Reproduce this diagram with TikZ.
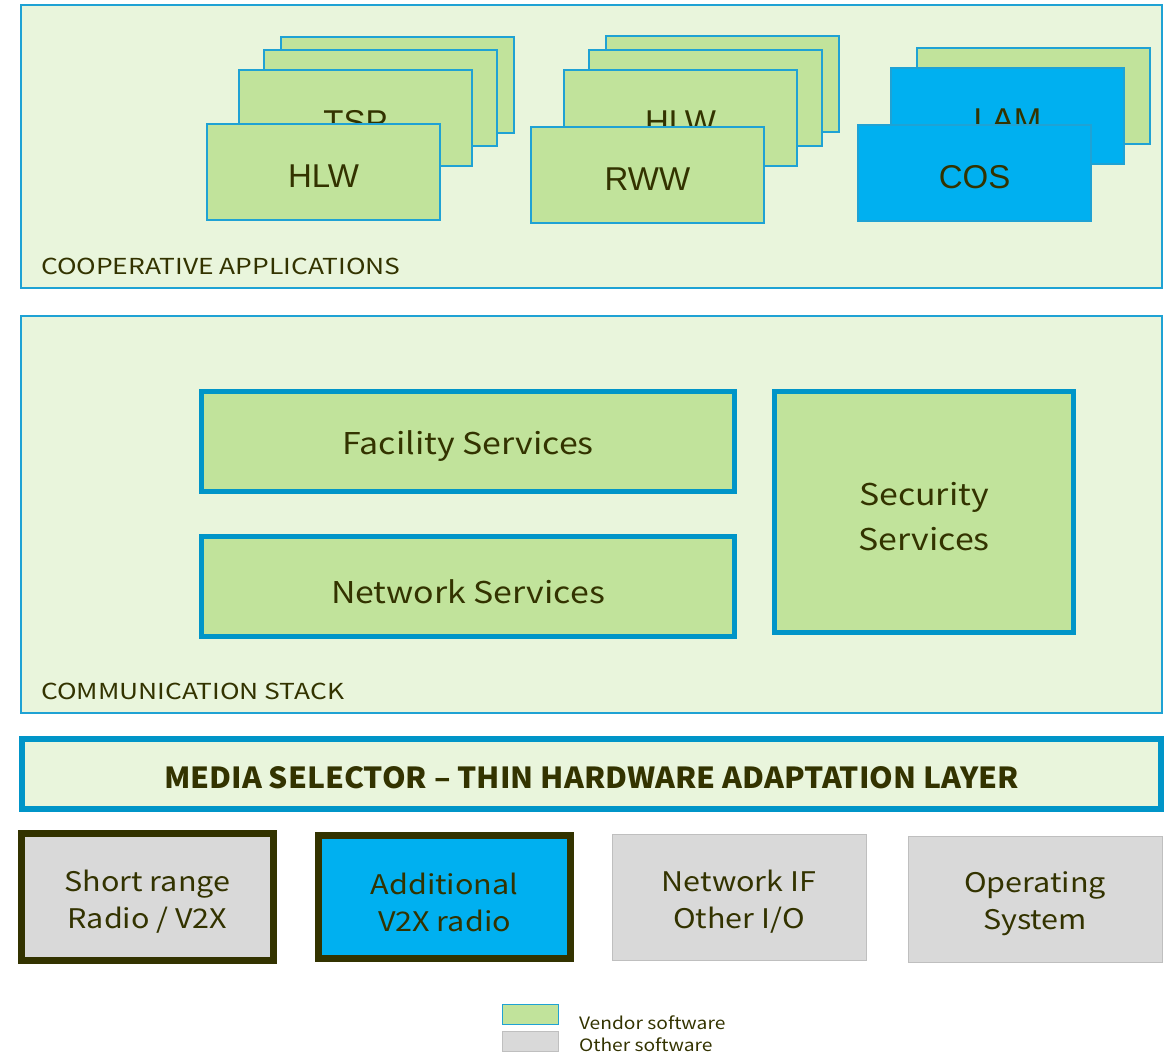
\documentclass[tikz,border=0pt]{standalone}
\usepackage{fontspec}
\setmainfont[FakeStretch=1.13]{Noto Sans CJK JP}
\newfontfamily\mediafont[FakeStretch=1.04]{Noto Sans CJK JP}
\newfontfamily\capsfont[FakeStretch=1.2]{Noto Sans CJK JP}
\newfontfamily\appfont{Liberation Sans}
\definecolor{panelfill}{HTML}{E9F5DC}
\definecolor{vendorgreen}{HTML}{C1E39B}
\definecolor{edgeblue}{HTML}{1FA2D4}
\definecolor{thickblue}{HTML}{0095C8}
\definecolor{brightblue}{HTML}{00B0F0}
\definecolor{othergray}{HTML}{D9D9D9}
\definecolor{graybd}{HTML}{BFBFBF}
\definecolor{olive}{HTML}{333300}
\begin{document}
\begin{tikzpicture}[x=1pt,y=-1pt,
  every node/.style={inner sep=0pt,outer sep=0pt,text=olive},
  panel/.style={draw=edgeblue,line width=1.2pt,fill=panelfill,rectangle,anchor=north west},
  appbox/.style={draw=edgeblue,line width=1.2pt,fill=vendorgreen,rectangle,anchor=north west,
    minimum width=233,minimum height=96},
  appblue/.style={appbox,fill=brightblue},
  apptext/.style={yshift=-4pt,font=\appfont\fontsize{33}{36}\selectfont},
  svcbox/.style={draw=thickblue,line width=5pt,fill=vendorgreen,rectangle,anchor=north west},
  svctext/.style={yshift=-5pt,font=\fontsize{30}{45}\selectfont,align=center},
  hwbox/.style={draw=olive,line width=7pt,rectangle,anchor=north west},
  plainbox/.style={draw=graybd,line width=1pt,fill=othergray,rectangle,anchor=north west},
  hwtext/.style={yshift=-5pt,font=\fontsize{27}{37}\selectfont,align=center},
  paneltitle/.style={anchor=base west,font=\capsfont\fontsize{22}{24}\selectfont},
  legendbox/.style={rectangle,anchor=north west,minimum width=56,minimum height=20},
  legendtext/.style={anchor=base west,font=\fontsize{17}{20}\selectfont}]
\useasboundingbox (0,0) rectangle (1167,1052);

% cooperative applications layer
\node[panel,minimum width=1141,minimum height=283] (coop) at (21,5) {};
\node[paneltitle] (cooplbl) at (41,274) {COOPERATIVE APPLICATIONS};

% first application stack
\node[appbox] (s1a) at (281,37) {};
\node[appbox] (s1b) at (264,50) {};
\node[appbox] (s1c) at (239,70) {};
\node[apptext] (s1ct) at (s1c.center) {TSP};
\node[appbox] (s1d) at (207,124) {};
\node[apptext] (s1dt) at (s1d.center) {HLW};

% second application stack
\node[appbox] (s2a) at (606,36) {};
\node[appbox] (s2b) at (589,50) {};
\node[appbox] (s2c) at (564,70) {};
\node[apptext] (s2ct) at (s2c.center) {HLW};
\node[appbox] (s2d) at (531,127) {};
\node[apptext] (s2dt) at (s2d.center) {RWW};

% third application stack
\node[appbox] (s3a) at (917,48) {};
\node[appblue] (s3b) at (891,68) {};
\node[apptext] (s3bt) at (s3b.center) {LAM};
\node[appblue] (s3c) at (858,125) {};
\node[apptext] (s3ct) at (s3c.center) {COS};

% communication stack layer
\node[panel,minimum width=1141,minimum height=397] (comm) at (21,316) {};
\node[paneltitle] (commlbl) at (41,699) {COMMUNICATION STACK};
\node[svcbox,minimum width=533,minimum height=100] (fac) at (201.5,391.5) {};
\node[svctext] (fact) at (fac.center) {Facility Services};
\node[svcbox,minimum width=533,minimum height=100] (net) at (201.5,536.5) {};
\node[svctext] (nett) at (net.center) {Network Services};
\node[svcbox,minimum width=299,minimum height=241] (sec) at (774.5,391.5) {};
\node[svctext] (sect) at (sec.center) {Security\\Services};

% media selector
\node[draw=thickblue,line width=6pt,fill=panelfill,rectangle,anchor=north west,
  minimum width=1139,minimum height=70] (media) at (22,739) {};
\node[yshift=-4pt,font=\mediafont\bfseries\fontsize{29}{32}\selectfont] (mediat) at (media.center)
  {MEDIA SELECTOR – THIN HARDWARE ADAPTATION LAYER};

% hardware and platform
\node[hwbox,fill=othergray,minimum width=252,minimum height=127] (srr) at (21.5,833.5) {};
\node[hwtext] (srrt) at (srr.center) {Short range\\Radio / V2X};
\node[hwbox,fill=brightblue,minimum width=252,minimum height=123] (addv) at (318.5,835.5) {};
\node[hwtext] (addvt) at (addv.center) {Additional\\V2X radio};
\node[plainbox,minimum width=254,minimum height=126] (netif) at (612,834) {};
\node[hwtext] (netift) at (netif.center) {Network IF\\Other I/O};
\node[plainbox,minimum width=254,minimum height=126] (os) at (908,836) {};
\node[hwtext] (ost) at (os.center) {Operating\\System};

% legend
\node[legendbox,draw=edgeblue,line width=1pt,fill=vendorgreen] (lgv) at (502,1004) {};
\node[legendbox,draw=graybd,line width=0.6pt,fill=othergray] (lgo) at (502,1031) {};
\node[legendtext] (lgvt) at (579,1029) {Vendor software};
\node[legendtext] (lgot) at (579,1051) {Other software};
\end{tikzpicture}
\end{document}
